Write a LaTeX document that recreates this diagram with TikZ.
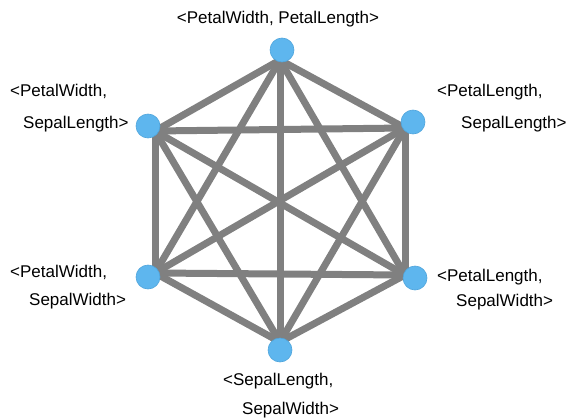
\documentclass[tikz,border=0pt]{standalone}
\usepackage{fontspec}
\setmainfont{Liberation Sans}
\definecolor{vtx}{RGB}{94,182,238}
\definecolor{vtxborder}{RGB}{80,165,220}
\definecolor{edgegray}{RGB}{128,128,128}
\begin{document}
\begin{tikzpicture}[x=1pt,y=-1pt,
  vertex/.style={circle,fill=vtx,draw=vtxborder,line width=0.6pt,minimum size=24pt,inner sep=0pt},
  edge/.style={draw=edgegray,line width=7pt},
  lbl/.style={inner sep=0pt,font=\fontsize{17}{20}\selectfont},
  lblw/.style={lbl,anchor=base west}]
\useasboundingbox (0,0) rectangle (569,417);
\coordinate (top) at (280,60);
\coordinate (ul) at (155,131);
\coordinate (ur) at (405,128);
\coordinate (ll) at (155,273);
\coordinate (lr) at (405,275);
\coordinate (bot) at (280,342);
\foreach \a/\b in {top/ul,top/ur,top/ll,top/lr,top/bot,ul/ur,ul/ll,ul/lr,ul/bot,ur/ll,ur/lr,ur/bot,ll/lr,ll/bot,lr/bot}
  \draw[edge] (\a) -- (\b);
\node[vertex] (ntop) at (282,50) {};
\node[vertex] (nul) at (148,126) {};
\node[vertex] (nur) at (413,122) {};
\node[vertex] (nll) at (148,277) {};
\node[vertex] (nlr) at (415,278) {};
\node[vertex] (nbot) at (280,350) {};
\node[lbl,anchor=base] (ttop) at (278,24) {<PetalWidth, PetalLength>};
\node[lblw] (tul1) at (10,96) {<PetalWidth,};
\node[lblw] (tul2) at (23,128) {SepalLength>};
\node[lblw] (tur1) at (437,96) {<PetalLength,};
\node[lblw] (tur2) at (461,128) {SepalLength>};
\node[lblw] (tll1) at (10,277) {<PetalWidth,};
\node[lblw] (tll2) at (29,305) {SepalWidth>};
\node[lblw] (tlr1) at (437,281) {<PetalLength,};
\node[lblw] (tlr2) at (456,306) {SepalWidth>};
\node[lblw] (tb1) at (223,385) {<SepalLength,};
\node[lblw] (tb2) at (242,414) {SepalWidth>};
\end{tikzpicture}
\end{document}
